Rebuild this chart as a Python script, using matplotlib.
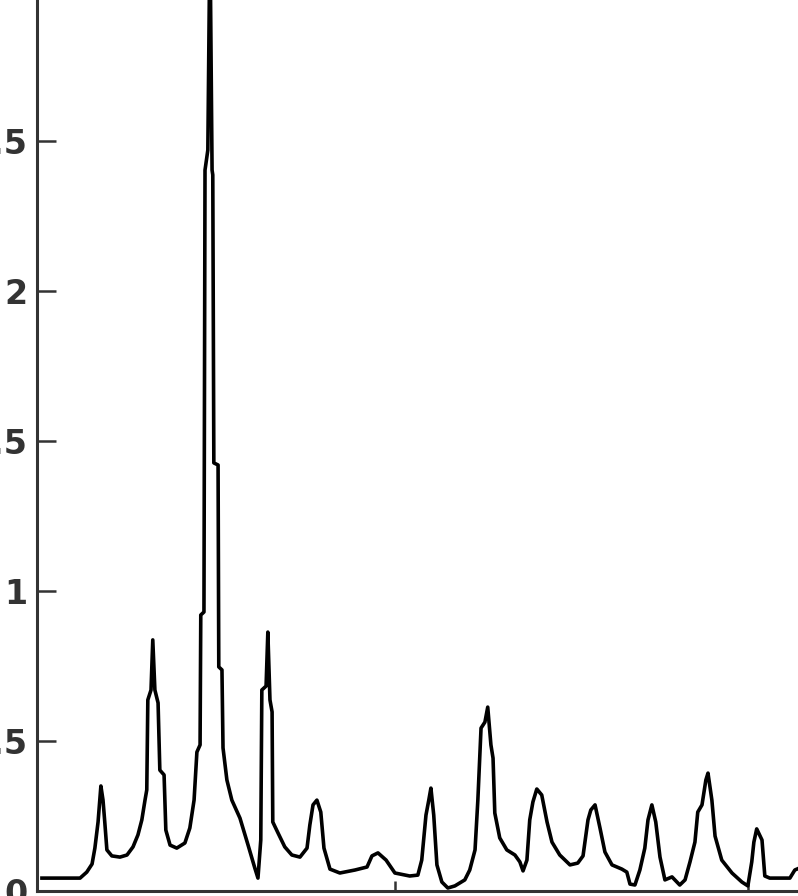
import matplotlib
matplotlib.use('Agg')
import matplotlib.pyplot as plt

# diffraction pattern
two_theta = [10.00, 11.08, 11.27, 11.42, 11.50, 11.59, 11.64, 11.67, 11.73, 11.78,
             11.84, 11.98, 12.21, 12.41, 12.58, 12.72, 12.83, 12.92, 12.97, 13.00,
             13.09, 13.14, 13.20, 13.29, 13.34, 13.46, 13.51, 13.63, 13.82, 14.05,
             14.19, 14.31, 14.39, 14.48, 14.50, 14.59, 14.62, 14.70, 14.76, 14.82,
             14.84, 14.87, 14.99, 15.01, 15.10, 15.13, 15.24, 15.38, 15.61, 15.84,
             16.03, 16.12, 16.20, 16.23, 16.35, 16.40, 16.46, 16.52, 16.54, 16.69,
             16.88, 17.08, 17.31, 17.51, 17.59, 17.68, 17.79, 17.90, 17.99, 18.16,
             18.44, 18.87, 19.21, 19.35, 19.52, 19.75, 20.00, 20.42, 20.65, 20.76,
             20.88, 20.96, 21.02, 21.10, 21.19, 21.33, 21.50, 21.70, 21.98, 22.12,
             22.27, 22.35, 22.44, 22.55, 22.63, 22.72, 22.78, 22.83, 22.97, 23.17,
             23.40, 23.54, 23.63, 23.74, 23.82, 23.91, 24.02, 24.16, 24.31, 24.45,
             24.67, 24.96, 25.18, 25.33, 25.47, 25.55, 25.67, 25.81, 25.95, 26.15,
             26.43, 26.57, 26.66, 26.80, 26.94, 27.08, 27.17, 27.28, 27.39, 27.51,
             27.65, 27.85, 28.07, 28.22, 28.36, 28.50, 28.58, 28.70, 28.81, 28.87,
             28.98, 29.07, 29.26, 29.55, 29.83, 30.00, 30.11, 30.17, 30.25, 30.40,
             30.48, 30.62, 31.19, 31.33, 31.47]
intensity = [0.043, 0.043, 0.063, 0.09, 0.143, 0.23, 0.303, 0.35, 0.303, 0.23,
             0.137, 0.117, 0.113, 0.12, 0.147, 0.187, 0.237, 0.303, 0.337, 0.637,
             0.67, 0.837, 0.67, 0.627, 0.403, 0.387, 0.203, 0.153, 0.143, 0.16,
             0.21, 0.303, 0.463, 0.487, 0.92, 0.93, 2.403, 2.47, 3.2, 2.403,
             2.387, 1.427, 1.42, 0.747, 0.737, 0.477, 0.37, 0.303, 0.243, 0.153,
             0.077, 0.043, 0.17, 0.67, 0.683, 0.863, 0.637, 0.597, 0.23, 0.193,
             0.147, 0.12, 0.113, 0.143, 0.22, 0.287, 0.303, 0.263, 0.143, 0.073,
             0.06, 0.07, 0.08, 0.117, 0.127, 0.103, 0.06, 0.05, 0.053, 0.103,
             0.253, 0.303, 0.343, 0.253, 0.087, 0.03, 0.01, 0.017, 0.037, 0.07,
             0.137, 0.303, 0.543, 0.563, 0.613, 0.487, 0.443, 0.26, 0.177, 0.137,
             0.12, 0.097, 0.067, 0.103, 0.237, 0.297, 0.34, 0.32, 0.23, 0.163,
             0.12, 0.087, 0.093, 0.117, 0.237, 0.27, 0.287, 0.21, 0.13, 0.087,
             0.073, 0.063, 0.023, 0.02, 0.07, 0.143, 0.237, 0.287, 0.23, 0.113,
             0.037, 0.047, 0.02, 0.037, 0.097, 0.163, 0.263, 0.287, 0.37, 0.393,
             0.303, 0.183, 0.103, 0.06, 0.03, 0.017, 0.097, 0.163, 0.207, 0.17,
             0.05, 0.043, 0.043, 0.07, 0.077]
y_ticks = [0, 0.5, 1, 1.5, 2, 2.5]
y_labels = ['0', '0.5', '1', '1.5', '2', '2.5']
x_ticks = [20, 30]

fig = plt.figure(figsize=(7.98, 8.96), dpi=100)
ax = fig.add_axes([37 / 798, 5 / 896, 761 / 798, 891 / 896])
ax.plot(two_theta, intensity, color='black', linewidth=2.6)
ax.set_xlim(9.86, 31.42)
ax.set_ylim(0, 2.97)

ax.spines['top'].set_visible(False)
ax.spines['right'].set_visible(False)
for side in ['left', 'bottom']:
    ax.spines[side].set_linewidth(2.2)
    ax.spines[side].set_color('#333333')

ax.set_yticks(y_ticks)
ax.set_yticklabels(y_labels, fontsize=24, fontweight='bold', color='#333333')
ax.tick_params(axis='y', direction='in', length=14, width=1.8, pad=7, colors='#333333')
ax.set_xticks(x_ticks)
ax.set_xticklabels([])
ax.tick_params(axis='x', direction='in', length=7, width=1.8, colors='#333333')

fig.savefig('out.png', dpi=100)
